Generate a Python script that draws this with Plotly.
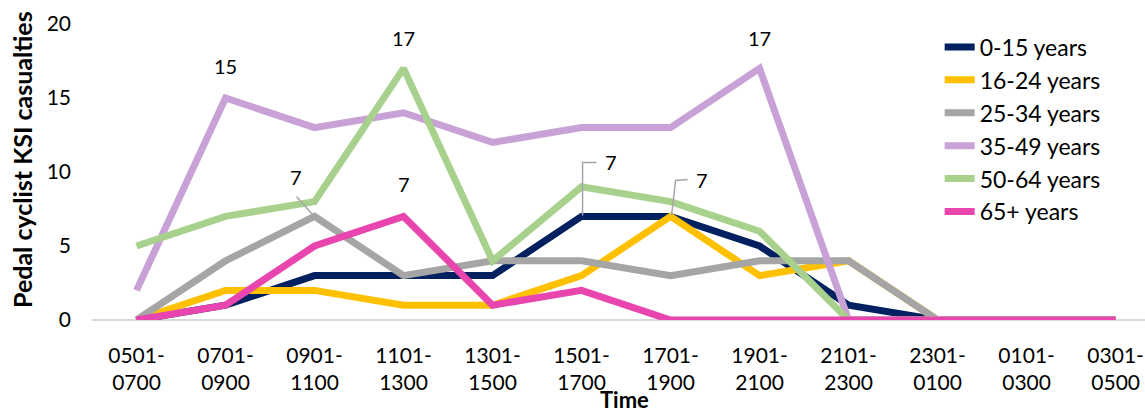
import plotly.graph_objects as go

# Time bands (two-line tick labels)
time_bands = ["0501-<br>0700", "0701-<br>0900", "0901-<br>1100", "1101-<br>1300",
              "1301-<br>1500", "1501-<br>1700", "1701-<br>1900", "1901-<br>2100",
              "2101-<br>2300", "2301-<br>0100", "0101-<br>0300", "0301-<br>0500"]

# KSI casualties by age group
age_0_15 = [0, 1, 3, 3, 3, 7, 7, 5, 1, 0, 0, 0]
age_16_24 = [0, 2, 2, 1, 1, 3, 7, 3, 4, 0, 0, 0]
age_25_34 = [0, 4, 7, 3, 4, 4, 3, 4, 4, 0, 0, 0]
age_35_49 = [2, 15, 13, 14, 12, 13, 13, 17, 0, 0, 0, 0]
age_50_64 = [5, 7, 8, 17, 4, 9, 8, 6, 0, 0, 0, 0]
age_65_plus = [0, 1, 5, 7, 1, 2, 0, 0, 0, 0, 0, 0]

series = [
    ("0-15 years", age_0_15, "#002060"),
    ("16-24 years", age_16_24, "#FFC000"),
    ("25-34 years", age_25_34, "#A5A5A5"),
    ("35-49 years", age_35_49, "#C8A2D6"),
    ("50-64 years", age_50_64, "#A9D18E"),
    ("65+ years", age_65_plus, "#E845AE"),
]

FONT = "Lato, Carlito, Calibri, sans-serif"
xs = list(range(len(time_bands)))

fig = go.Figure()
for i, (name, vals, color) in enumerate(series):
    fig.add_trace(go.Scatter(
        x=xs, y=vals, name=name, mode="lines",
        line=dict(color=color, width=7),
    ))

# Data labels: (series values, index, x-offset px, y-offset px)
labels = [
    (age_35_49, 1, 0, -32),
    (age_50_64, 3, 0, -30),
    (age_65_plus, 3, 0, -32),
    (age_35_49, 7, 0, -30),
    (age_25_34, 2, -19, -39),
    (age_0_15, 5, 29, -54),
    (age_16_24, 6, 31, -36),
]
for vals, idx, dx, dy in labels:
    fig.add_annotation(
        x=idx, y=vals[idx], xref="x", yref="y",
        text=str(vals[idx]), showarrow=False,
        xshift=dx, yshift=-dy,
        font=dict(family=FONT, size=20, color="#000000"),
    )

# Leader lines for offset labels (pixel paths anchored at the data point)
leaders = [
    (age_25_34, 2, "M -2,2 L -18,20"),
    (age_0_15, 5, "M 1,1 L 1,54 L 15,54"),
    (age_16_24, 6, "M 1,1 L 5,36 L 17,37"),
]
for vals, idx, path in leaders:
    fig.add_shape(
        type="path", xref="x", yref="y",
        xsizemode="pixel", ysizemode="pixel",
        xanchor=idx, yanchor=vals[idx],
        path=path, line=dict(color="#A5A5A5", width=1.5),
    )

# Axis titles
fig.add_annotation(
    text="<b>Time</b>", xref="paper", yref="paper", x=0.5, y=0,
    xshift=6, yshift=-79, showarrow=False, xanchor="center", yanchor="middle",
    font=dict(family=FONT, size=22, color="#000000"),
)
fig.add_annotation(
    text="<b>Pedal cyclist KSI casualties</b>", xref="paper", yref="paper",
    x=0, y=0.5, xshift=-70, yshift=12, textangle=-90, showarrow=False,
    xanchor="center", yanchor="middle",
    font=dict(family=FONT, size=25, color="#000000"),
)

fig.update_layout(
    width=1145, height=414,
    margin=dict(l=92, r=0, t=24, b=94),
    paper_bgcolor="white", plot_bgcolor="white",
    font=dict(family=FONT, size=20, color="#000000"),
    showlegend=True,
    legend=dict(
        x=0.805, y=0.995, xanchor="left", yanchor="top",
        font=dict(family=FONT, size=23, color="#000000"),
        tracegroupgap=0, bgcolor="rgba(0,0,0,0)",
    ),
    xaxis=dict(
        tickvals=xs, ticktext=time_bands,
        range=[-0.5, 11.33], automargin=False,
        showgrid=False, zeroline=False,
        showline=False, ticks="",
        tickfont=dict(family=FONT, size=21, color="#000000"),
        ticklabelstandoff=21,
    ),
    yaxis=dict(
        range=[0, 20], dtick=5, automargin=False,
        showgrid=False, zeroline=True, zerolinecolor="#D9D9D9", zerolinewidth=1.5,
        showline=False, ticks="",
        tickfont=dict(family=FONT, size=21, color="#000000"),
        ticklabelstandoff=20,
    ),
)

fig.write_html("out.html")
